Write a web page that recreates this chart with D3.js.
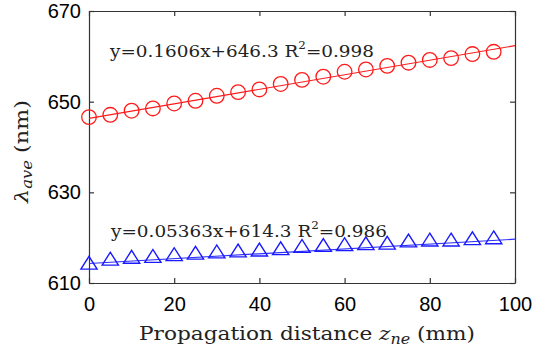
<!DOCTYPE html>
<html lang="en">

<head>
  <meta charset="UTF-8">
  <title>lambda ave</title>
  <script src="https://cdn.jsdelivr.net/npm/d3@7.6.1/dist/d3.min.js"></script>
  <style>
    body { margin: 0; background: #fff; }
    svg { display: block; }
  </style>
</head>

<body>
  <div id="box"></div>
  <script>
    const width = 550
    const height = 350
    const margin = { left: 89, right: 35, top: 11, bottom: 67 }

    // propagation distance (mm)
    const distance = [0, 5, 10, 15, 20, 25, 30, 35, 40, 45, 50, 55, 60, 65, 70, 75, 80, 85, 90, 95]
    // lambda ave (nm), red circles
    const redValues = [646.6, 647.1, 648.0, 648.5, 649.6, 650.2, 651.3, 652.1, 652.7, 653.9,
      654.8, 655.5, 656.6, 657.1, 657.9, 658.6, 659.2, 659.6, 660.5, 661.0]
    // blue triangles
    const blueValues = [614.0, 614.9, 615.3, 615.5, 615.9, 616.2, 616.5, 616.7, 616.9, 617.2,
      617.7, 617.9, 618.1, 618.3, 618.4, 618.9, 619.1, 619.1, 619.4, 619.6]
    // linear fits [intercept, slope]
    const redFit = [646.3, 0.1606]
    const blueFit = [614.3, 0.05363]
    const xTicks = [0, 20, 40, 60, 80, 100]
    const yTicks = [610, 630, 650, 670]

    const svg = d3.select('#box').append('svg')
      .attr('width', width)
      .attr('height', height)

    const x = d3.scaleLinear().domain([0, 100]).range([margin.left, width - margin.right])
    const y = d3.scaleLinear().domain([610, 670]).range([height - margin.bottom, margin.top])

    // axes, matlab style: ticks inside, box all round
    const tickFont = "'Liberation Sans', Arial, sans-serif"
    svg.append('g')
      .attr('transform', `translate(0,${y(610)})`)
      .call(d3.axisBottom(x).tickValues(xTicks).tickSizeInner(-5).tickSizeOuter(0).tickPadding(14))
      .call(g => g.selectAll('text').attr('font-size', 20).attr('font-family', tickFont).attr('fill', '#000'))
    svg.append('g')
      .attr('transform', `translate(${x(0)},0)`)
      .call(d3.axisLeft(y).tickValues(yTicks).tickSizeInner(-5).tickSizeOuter(0).tickPadding(8))
      .call(g => g.selectAll('text').attr('font-size', 20).attr('font-family', tickFont).attr('fill', '#000'))
    svg.append('g')
      .attr('transform', `translate(0,${y(670)})`)
      .call(d3.axisTop(x).tickValues(xTicks).tickSizeInner(-5).tickSizeOuter(0).tickFormat(''))
    svg.append('g')
      .attr('transform', `translate(${x(100)},0)`)
      .call(d3.axisRight(y).tickValues(yTicks).tickSizeInner(-5).tickSizeOuter(0).tickFormat(''))
    svg.selectAll('.domain, .tick line').attr('stroke', '#333').attr('stroke-width', 1.2)

    // fit lines
    function drawFit(fit, color) {
      svg.append('line')
        .attr('x1', x(0)).attr('y1', y(fit[0]))
        .attr('x2', x(100)).attr('y2', y(fit[0] + fit[1] * 100))
        .attr('stroke', color).attr('stroke-width', 1.2)
    }
    drawFit(redFit, '#ff1a1a')
    drawFit(blueFit, '#3030ff')

    // markers
    svg.append('g').selectAll('circle')
      .data(redValues)
      .join('circle')
      .attr('cx', (d, i) => x(distance[i]))
      .attr('cy', d => y(d))
      .attr('r', 7.3)
      .attr('fill', 'none')
      .attr('stroke', '#ff1a1a')
      .attr('stroke-width', 1.3)

    const tri = d3.symbol().type(d3.symbolTriangle).size(95)
    svg.append('g').selectAll('path')
      .data(blueValues)
      .join('path')
      .attr('d', tri)
      .attr('transform', (d, i) => `translate(${x(distance[i])},${y(d)}) scale(1.1,1)`)
      .attr('fill', 'none')
      .attr('stroke', '#1a1aff')
      .attr('stroke-width', 1.3)

    // fit annotations (latex-ish serif, squeezed to the widths in the figure)
    const serif = "'DejaVu Serif', 'Liberation Serif', serif"
    function note(xp, yp, eq, r2, len) {
      const t = svg.append('text')
        .attr('x', xp).attr('y', yp)
        .attr('font-family', serif).attr('font-size', 17).attr('fill', '#222')
        .attr('textLength', len).attr('lengthAdjust', 'spacingAndGlyphs')
      t.append('tspan').text(eq + ' R')
      t.append('tspan').attr('dy', -8).attr('font-size', 11).text('2')
      t.append('tspan').attr('dy', 8).text('=' + r2)
    }
    note(110, 57, 'y=0.1606x+646.3', '0.998', 264)
    note(111, 237, 'y=0.05363x+614.3', '0.986', 276)

    // axis titles
    const xt = svg.append('text')
      .attr('x', 139).attr('y', 340)
      .attr('font-family', serif).attr('font-size', 19).attr('fill', '#222')
      .attr('textLength', 336).attr('lengthAdjust', 'spacingAndGlyphs')
    xt.append('tspan').text('Propagation distance ')
    xt.append('tspan').attr('font-style', 'italic').text('z')
    xt.append('tspan').attr('font-style', 'italic').attr('font-size', 14).attr('dy', 4).text('ne')
    xt.append('tspan').attr('dy', -4).text(' (mm)')

    const yt = svg.append('text')
      .attr('transform', 'translate(28,203) rotate(-90)')
      .attr('font-family', serif).attr('font-size', 19).attr('fill', '#222')
      .attr('textLength', 103).attr('lengthAdjust', 'spacingAndGlyphs')
    yt.append('tspan').attr('font-style', 'italic').text('λ')
    yt.append('tspan').attr('font-style', 'italic').attr('font-size', 14).attr('dy', 4).text('ave')
    yt.append('tspan').attr('dy', -4).text(' (nm)')
  </script>
</body>

</html>
